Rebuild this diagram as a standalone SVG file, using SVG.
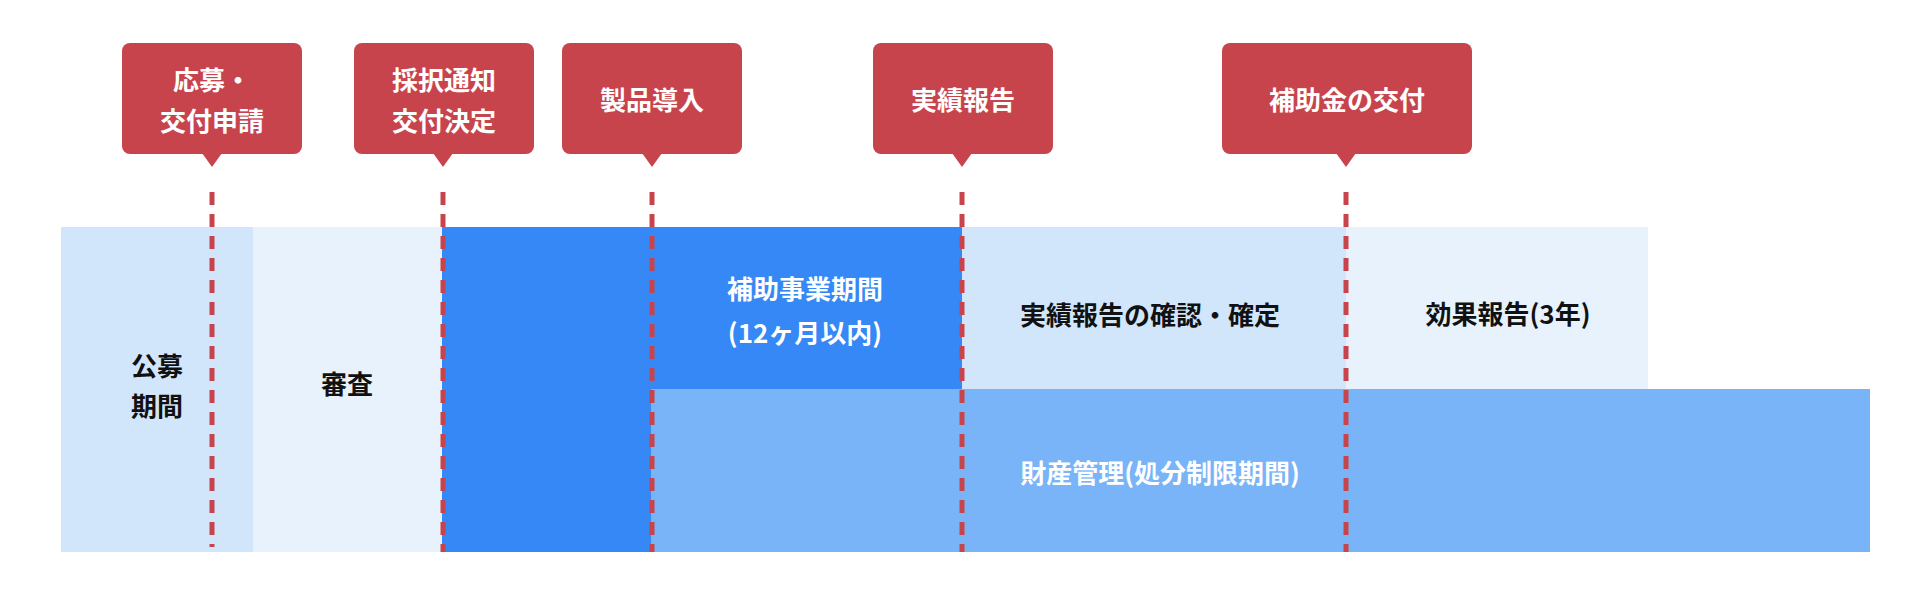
<svg xmlns="http://www.w3.org/2000/svg" width="1920" height="593" viewBox="0 0 1920 593">
<style>
text{font-family:"Noto Sans CJK JP","Noto Sans",sans-serif;font-weight:bold;text-anchor:middle;dominant-baseline:central}
.w{fill:#fff;font-size:26px}
.k{fill:#111;font-size:26px}
.call{fill:#c8444d}
.d{stroke:#c8444d;stroke-width:5;stroke-dasharray:13 9;fill:none}
</style>
<rect width="1920" height="593" fill="#fff"/>
<g id="bands">
<rect x="61" y="227" width="192" height="325" fill="#d1e5fb"/>
<rect x="253" y="227" width="189" height="325" fill="#e8f2fd"/>
<rect x="442" y="227" width="209" height="325" fill="#3588f5"/>
<rect x="651" y="227" width="311" height="162" fill="#3588f5"/>
<rect x="651" y="389" width="1219" height="163" fill="#78b4f7"/>
<rect x="962" y="227" width="384" height="162" fill="#d1e5fb"/>
<rect x="1346" y="227" width="302" height="162" fill="#e8f2fd"/>
<text class="k" x="157" y="364">公募</text><text class="k" x="157" y="404">期間</text>
<text class="k" x="347" y="382">審査</text>
<text class="w" x="805" y="287">補助事業期間</text><text class="w" x="805" y="331">(12ヶ月以内)</text>
<text class="k" x="1150" y="313">実績報告の確認・確定</text>
<text class="k" x="1508" y="312">効果報告(3年)</text>
<text class="w" x="1160" y="471">財産管理(処分制限期間)</text>
</g>
<g id="connectors">
<line class="d" x1="212" y1="192" x2="212" y2="547"/>
<line class="d" x1="443" y1="192" x2="443" y2="552"/>
<line class="d" x1="652" y1="192" x2="652" y2="552"/>
<line class="d" x1="962" y1="192" x2="962" y2="552"/>
<line class="d" x1="1346" y1="192" x2="1346" y2="552"/>
</g>
<g id="m1"><rect class="call" x="122" y="43" width="180" height="111" rx="8"/><path class="call" d="M202 153 L212 167 L222 153Z"/><text class="w" x="212" y="78">応募・</text><text class="w" x="212" y="119">交付申請</text></g>
<g id="m2"><rect class="call" x="354" y="43" width="180" height="111" rx="8"/><path class="call" d="M433 153 L443 167 L453 153Z"/><text class="w" x="444" y="78">採択通知</text><text class="w" x="444" y="119">交付決定</text></g>
<g id="m3"><rect class="call" x="562" y="43" width="180" height="111" rx="8"/><path class="call" d="M642 153 L652 167 L662 153Z"/><text class="w" x="652" y="98">製品導入</text></g>
<g id="m4"><rect class="call" x="873" y="43" width="180" height="111" rx="8"/><path class="call" d="M952 153 L962 167 L972 153Z"/><text class="w" x="963" y="98">実績報告</text></g>
<g id="m5"><rect class="call" x="1222" y="43" width="250" height="111" rx="8"/><path class="call" d="M1336 153 L1346 167 L1356 153Z"/><text class="w" x="1347" y="98">補助金の交付</text></g>
</svg>
